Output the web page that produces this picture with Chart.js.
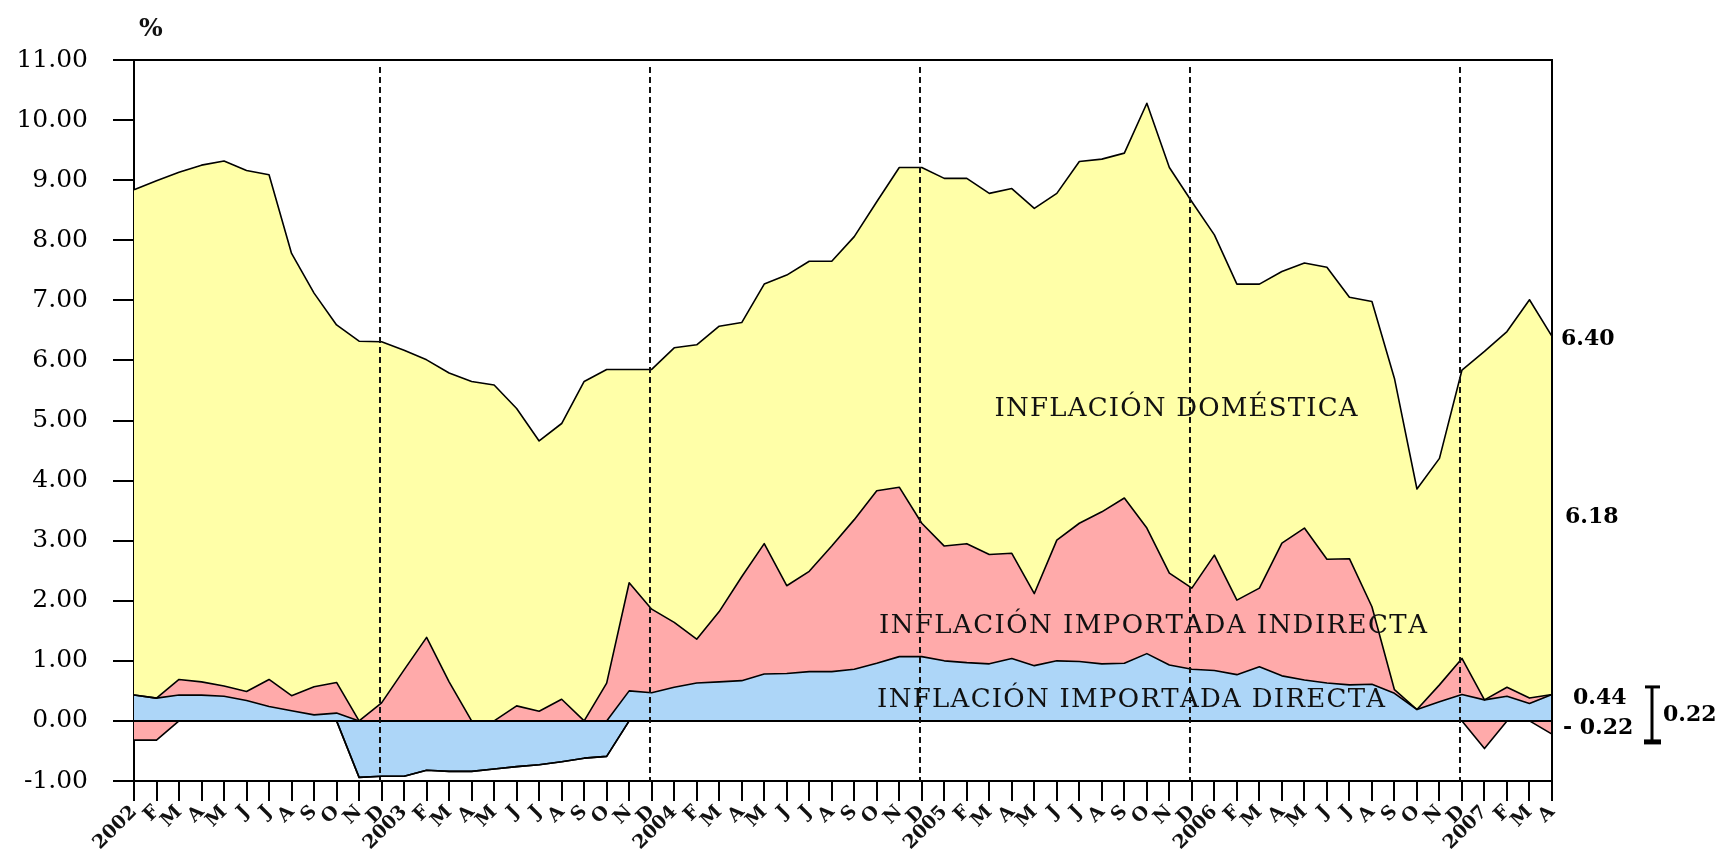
<!DOCTYPE html>
<html><head><meta charset="utf-8">
<script src="https://cdn.jsdelivr.net/npm/chart.js@4"></script>
<style>html,body{margin:0;padding:0;background:#fff;}</style>
</head><body>
<canvas id="c" width="1718" height="854"></canvas>
<script>
// Month labels (Jan shown as the year)
const months = [
 '2002','F','M','A','M','J','J','A','S','O','N','D',
 '2003','F','M','A','M','J','J','A','S','O','N','D',
 '2004','F','M','A','M','J','J','A','S','O','N','D',
 '2005','F','M','A','M','J','J','A','S','O','N','D',
 '2006','F','M','A','M','J','J','A','S','O','N','D',
 '2007','F','M','A'
];
// Total inflation (%)
const total = [
 8.84,8.99,9.13,9.25,9.32,9.16,9.09,7.78,7.12,6.59,6.32,6.31,
 6.17,6.01,5.79,5.65,5.59,5.20,4.66,4.95,5.65,5.85,5.85,5.85,
 6.21,6.26,6.57,6.63,7.27,7.42,7.65,7.65,8.06,8.64,9.21,9.21,
 9.03,9.03,8.78,8.86,8.53,8.78,9.31,9.35,9.45,10.28,9.21,8.64,
 8.09,7.27,7.27,7.48,7.62,7.55,7.05,6.98,5.70,3.86,4.37,5.84,
 6.15,6.48,7.01,6.40
];
// Imported inflation, direct (%)
const directa = [
 0.43,0.38,0.43,0.43,0.41,0.34,0.24,0.17,0.10,0.13,-0.94,-0.92,
 -0.92,-0.82,-0.84,-0.84,-0.80,-0.76,-0.73,-0.68,-0.62,-0.59,0.50,0.47,
 0.56,0.63,0.65,0.67,0.78,0.79,0.82,0.82,0.86,0.96,1.07,1.07,
 1.00,0.97,0.95,1.04,0.92,1.00,0.99,0.95,0.96,1.12,0.93,0.86,
 0.84,0.77,0.90,0.75,0.68,0.63,0.60,0.61,0.46,0.19,0.32,0.44,
 0.35,0.41,0.29,0.44
];
// Imported inflation, indirect (%)
const indirecta = [
 -0.32,-0.32,0.26,0.22,0.17,0.15,0.45,0.25,0.47,0.51,0.00,0.30,
 0.85,1.39,0.65,0.00,0.00,0.25,0.16,0.36,0.00,0.63,1.80,1.39,
 1.08,0.73,1.17,1.73,2.17,1.46,1.67,2.09,2.49,2.87,2.82,2.22,
 1.91,1.98,1.82,1.75,1.20,2.01,2.30,2.53,2.75,2.09,1.53,1.35,
 1.92,1.24,1.31,2.21,2.53,2.06,2.10,1.29,0.06,0.00,0.28,0.60,
 -0.46,0.15,0.09,-0.22
];
const yTicks = [-1,0,1,2,3,4,5,6,7,8,9,10,11];

const YELLOW = '#FFFFA8', PINK = '#FFAAAA', BLUE = '#ADD6F8';

// stacking: positive parts upward from zero, negative parts downward
const posD = directa.map(v => Math.max(v, 0));
const negD = directa.map(v => Math.min(v, 0));
const pinkTop = directa.map((v, k) => Math.max(v, 0) + Math.max(indirecta[k], 0));
const pinkBot = directa.map((v, k) => Math.min(v, 0) + Math.min(indirecta[k], 0));

const base = {pointRadius: 0, borderColor: '#000', borderWidth: 1.6, tension: 0, borderJoinStyle: 'round'};

const SERIF = '"DejaVu Serif", "Liberation Serif", serif';

function spacedText(ctx, text, cx, cy, targetW) {
  const chars = [...text];
  const widths = chars.map(c => ctx.measureText(c).width);
  const raw = widths.reduce((a, b) => a + b, 0);
  const sp = (targetW - raw) / (chars.length - 1);
  let x = cx - targetW / 2;
  ctx.textAlign = 'left';
  chars.forEach((c, i) => { ctx.fillText(c, x, cy); x += widths[i] + sp; });
}

const deco = {
  id: 'deco',
  afterDatasetsDraw(chart) {
    const {ctx, chartArea: a, scales: {x, y}} = chart;
    ctx.save();
    // zero line
    ctx.strokeStyle = '#000'; ctx.lineWidth = 2;
    ctx.beginPath(); ctx.moveTo(a.left, y.getPixelForValue(0)); ctx.lineTo(a.right, y.getPixelForValue(0)); ctx.stroke();
    // top and right frame
    ctx.beginPath(); ctx.moveTo(a.left, a.top); ctx.lineTo(a.right, a.top); ctx.lineTo(a.right, a.bottom); ctx.stroke();
    // dashed year separators at December
    ctx.setLineDash([6, 4]); ctx.lineWidth = 2; ctx.strokeStyle = '#111';
    months.forEach((m, k) => {
      if (m === 'D') {
        const px = Math.round(x.getPixelForValue(k)) - 2;
        ctx.beginPath(); ctx.moveTo(px, a.top + 7); ctx.lineTo(px, a.bottom); ctx.stroke();
      }
    });
    ctx.setLineDash([]);
    // area labels
    ctx.fillStyle = '#111';
    ctx.font = '26px ' + SERIF;
    ctx.textBaseline = 'middle';
    spacedText(ctx, 'INFLACIÓN DOMÉSTICA', x.getPixelForValue(46.3), y.getPixelForValue(5.19), 363);
    spacedText(ctx, 'INFLACIÓN IMPORTADA INDIRECTA', x.getPixelForValue(45.27), y.getPixelForValue(1.58), 548);
    spacedText(ctx, 'INFLACIÓN IMPORTADA DIRECTA', x.getPixelForValue(44.3), y.getPixelForValue(0.35), 508);
    // % unit
    ctx.font = 'bold 25px ' + SERIF; ctx.textAlign = 'center';
    ctx.fillText('%', 151, 29);
    // right side values
    const n = months.length - 1;
    const T = total[n], d = directa[n], i = indirecta[n];
    const dom = T - d - i, imp = d + i;
    const f = v => (v < 0 ? '- ' : '') + Math.abs(v).toFixed(2);
    ctx.font = 'bold 22px ' + SERIF; ctx.textAlign = 'left'; ctx.fillStyle = '#000';
    ctx.fillText(f(T), a.right + 9, y.getPixelForValue(T) + 3);
    ctx.fillText(f(dom), a.right + 13, y.getPixelForValue((pinkTop[n] + T) / 2) + 2);
    ctx.fillText(f(d), a.right + 21, y.getPixelForValue(0) - 23);
    ctx.fillText(f(i), a.right + 11, y.getPixelForValue(0) + 7);
    const bx = a.right + 100, by0 = y.getPixelForValue(0) - 34, by1 = y.getPixelForValue(0) + 22;
    ctx.lineWidth = 3; ctx.strokeStyle = '#000';
    ctx.beginPath(); ctx.moveTo(bx, by0); ctx.lineTo(bx, by1); ctx.stroke();
    ctx.beginPath(); ctx.moveTo(bx - 7, by0); ctx.lineTo(bx + 8, by0); ctx.stroke();
    ctx.lineWidth = 5;
    ctx.beginPath(); ctx.moveTo(bx - 8, by1 - 1); ctx.lineTo(bx + 9, by1 - 1); ctx.stroke();
    ctx.fillText(f(imp), a.right + 111, y.getPixelForValue(0) - 6);
    ctx.restore();
  }
};

new Chart(document.getElementById('c'), {
  type: 'line',
  data: {
    labels: months,
    datasets: [
      {...base, label: 'directa+', data: posD, fill: 'origin', backgroundColor: BLUE},
      {...base, label: 'directa-', data: negD, fill: 'origin', backgroundColor: BLUE},
      {...base, label: 'indirecta+', data: pinkTop, fill: 0, backgroundColor: PINK},
      {...base, label: 'indirecta-', data: pinkBot, fill: 1, backgroundColor: PINK},
      {...base, label: 'total', data: total, fill: 2, backgroundColor: YELLOW}
    ]
  },
  options: {
    responsive: false, animation: false, devicePixelRatio: 1,
    layout: {padding: {left: 0, right: 166, top: 60, bottom: 0}},
    plugins: {legend: {display: false}, tooltip: {enabled: false}, filler: {drawTime: 'beforeDatasetsDraw'}},
    scales: {
      x: {
        grid: {display: true, drawOnChartArea: false, drawTicks: true, tickLength: 20, color: '#000', lineWidth: 2},
        border: {display: true, color: '#000', width: 2},
        ticks: {autoSkip: false, maxRotation: 45, minRotation: 45, padding: 0,
                font: {family: SERIF, size: 19, weight: 'bold'}, color: '#111'},
        afterFit(s) { s.height = 73; }
      },
      y: {
        min: -1, max: 11,
        afterBuildTicks(s) { s.ticks = yTicks.map(v => ({value: v})); },
        grid: {display: true, drawOnChartArea: false, drawTicks: true, tickLength: 21, color: '#000', lineWidth: 2},
        border: {display: true, color: '#000', width: 2},
        ticks: {padding: 25, callback: v => v.toFixed(2), font: {family: SERIF, size: 25}, color: '#000'},
        afterFit(s) { s.width = 134; }
      }
    }
  },
  plugins: [deco]
});
</script>
</body></html>
